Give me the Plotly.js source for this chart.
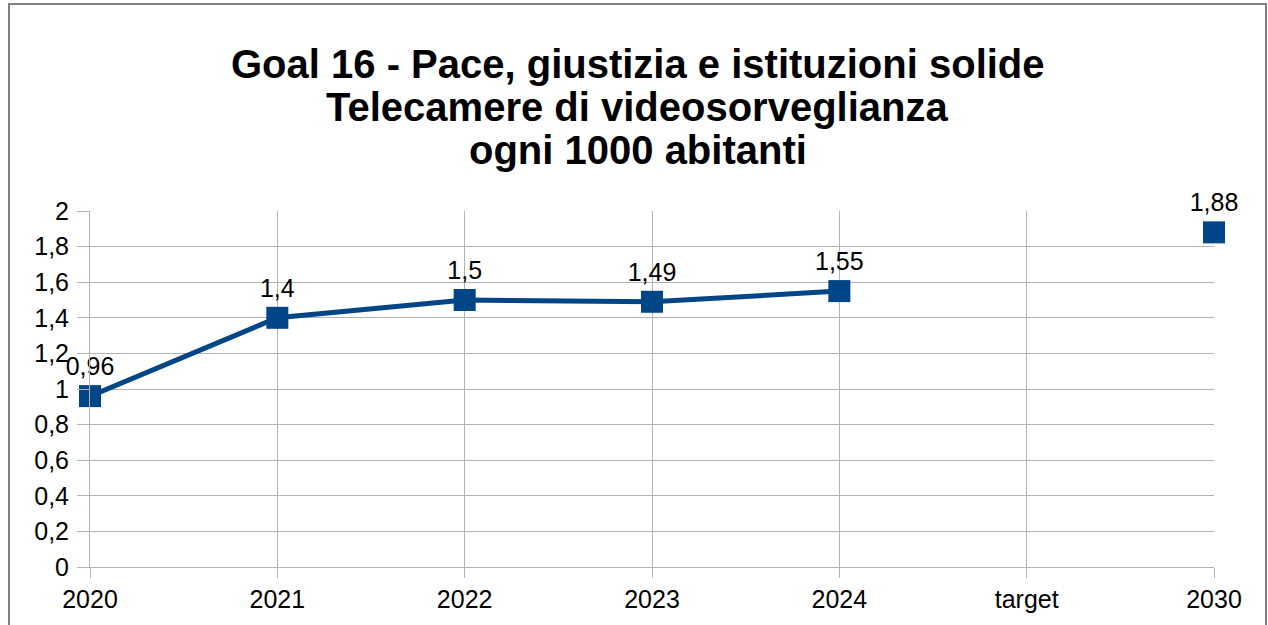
<!DOCTYPE html>
<html>
<head>
<meta charset="utf-8">
<script src="https://cdn.plot.ly/plotly-3.0.1.min.js"></script>
<style>
  html, body { margin: 0; padding: 0; background: #fff; }
  #wrap { position: relative; width: 1268px; height: 625px; overflow: hidden; }
  #chart { position: absolute; left: 0; top: 0; width: 1268px; height: 625px; }
  #frame { position: absolute; left: 8px; top: 3px; width: 1255px; height: 640px;
           border-left: 2px solid #808080; border-top: 2px solid #808080; border-right: 2px solid #808080;
           pointer-events: none; }
</style>
</head>
<body>
<div id="wrap">
  <div id="chart"></div>
  <div id="frame"></div>
</div>
<script>
const categories = ["2020", "2021", "2022", "2023", "2024", "target", "2030"];
const values = [0.96, 1.4, 1.5, 1.49, 1.55, null, 1.88];
const yTickVals = [0, 0.2, 0.4, 0.6, 0.8, 1, 1.2, 1.4, 1.6, 1.8, 2];
const yTickText = ["0", "0,2", "0,4", "0,6", "0,8", "1", "1,2", "1,4", "1,6", "1,8", "2"];
const titleLines = ["Goal 16 - Pace, giustizia e istituzioni solide", "Telecamere di videosorveglianza", "ogni 1000 abitanti"];

const labels = values.map(v => v === null ? "" : String(v).replace(".", ","));
const FONT = "Liberation Sans, Arial, sans-serif";

const trace = {
  type: "scatter",
  mode: "lines+markers+text",
  x: categories,
  y: values,
  text: labels,
  textposition: "top center",
  textfont: { family: FONT, size: 25, color: "#000" },
  line: { color: "#004586", width: 5 },
  marker: { symbol: "square", size: 22, color: "#004586" },
  connectgaps: false,
  cliponaxis: false,
  hoverinfo: "skip"
};

const titleY = [1.413, 1.292, 1.171];
const annotations = titleLines.map((t, i) => ({
  text: "<b>" + t + "</b>",
  xref: "paper", yref: "paper",
  x: 0.4875, y: titleY[i],
  xanchor: "center", yanchor: "middle",
  showarrow: false,
  font: { family: FONT, size: 40, color: "#000" }
}));

const layout = {
  width: 1268, height: 625,
  margin: { l: 90, r: 54, t: 211, b: 58 },
  paper_bgcolor: "#fff", plot_bgcolor: "#fff",
  showlegend: false,
  annotations: annotations,
  xaxis: {
    type: "category",
    range: [0, 6],
    showgrid: true, gridcolor: "#b3b3b3", gridwidth: 1,
    showline: true, linecolor: "#b3b3b3", linewidth: 1,
    ticks: "outside", ticklen: 10, tickcolor: "#b3b3b3",
    tickfont: { family: FONT, size: 25, color: "#000" },
    zeroline: false, fixedrange: true
  },
  yaxis: {
    range: [0, 2],
    tickvals: yTickVals, ticktext: yTickText,
    showgrid: true, gridcolor: "#b3b3b3", gridwidth: 1,
    showline: true, linecolor: "#b3b3b3", linewidth: 1,
    ticks: "outside", ticklen: 12, tickcolor: "#b3b3b3",
    ticklabelstandoff: 3,
    tickfont: { family: FONT, size: 25, color: "#000" },
    zeroline: false, fixedrange: true
  }
};

Plotly.newPlot("chart", [trace], layout, { staticPlot: true, displayModeBar: false });
</script>
</body>
</html>
